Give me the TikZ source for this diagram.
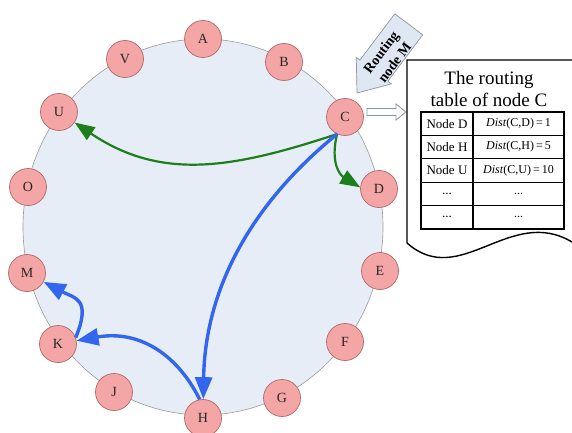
\documentclass[tikz,border=0pt]{standalone}
\usepackage{fontspec}
\setmainfont{Liberation Serif}
\usetikzlibrary{arrows.meta}

\definecolor{ringfill}{HTML}{E7EDF7}
\definecolor{ringline}{HTML}{9A9A9A}
\definecolor{peerfill}{HTML}{F4A5A5}
\definecolor{peerline}{HTML}{B06868}
\definecolor{hopgreen}{HTML}{1C7F1C}
\definecolor{hopblue}{HTML}{3366EE}
\definecolor{calloutfill}{HTML}{DFE7F3}
\definecolor{calloutline}{HTML}{8C96A4}

\begin{document}
\begin{tikzpicture}[x=1pt,y=1pt,
  peer/.style={circle, fill=peerfill, draw=peerline, line width=0.7pt,
    minimum size=37pt, inner sep=0pt, text=black!85,
    font=\fontsize{14}{14}\selectfont},
  greenhop/.style={draw=hopgreen, line width=2.2pt,
    -{Triangle[length=20pt,width=15pt]}},
  bluehop/.style={draw=hopblue, line width=3.4pt,
    -{Triangle[length=22pt,width=17pt]}},
  cellkey/.style={draw, line width=1.3pt, minimum width=52pt,
    minimum height=23.4pt, inner sep=0pt, font=\fontsize{13}{13}\selectfont},
  cellval/.style={draw, line width=1.3pt, minimum width=91pt,
    minimum height=23.4pt, inner sep=0pt, font=\fontsize{12}{13}\selectfont}
]
\useasboundingbox (0,0) rectangle (572,-433);

% the ring of peers
\draw[fill=ringfill, draw=ringline, line width=0.6pt]
  (203,-227) ellipse [x radius=180, y radius=188];

\node[peer] (A) at (203,-39)  {A};
\node[peer] (B) at (284,-62)  {B};
\node[peer] (C) at (345,-117) {C};
\node[peer] (D) at (379,-189) {D};
\node[peer] (E) at (380,-271) {E};
\node[peer] (F) at (345,-342) {F};
\node[peer] (G) at (282,-398) {G};
\node[peer] (H) at (203,-418) {H};
\node[peer] (J) at (114,-392) {J};
\node[peer] (K) at (58,-344)  {K};
\node[peer] (M) at (27,-273)  {M};
\node[peer] (O) at (28,-187)  {O};
\node[peer] (U) at (59,-112)  {U};
\node[peer] (V) at (125,-59)  {V};

% entries of C's routing table
\draw[greenhop] (C.-115) .. controls (234,-168) and (162,-181.5) .. (U);
\draw[greenhop] (C.-115) .. controls (330,-163) and (340,-175) .. (D.175);
\draw[bluehop]  (C.-115) .. controls (250,-205) and (205,-290) .. (H);

% lookup path towards M
\draw[bluehop] (H.100) .. controls (176,-352) and (137,-330) .. (K);
\draw[bluehop] (K.20) .. controls (92,-298) and (74,-298) .. (M);

% incoming request callout
\begin{scope}[shift={(357,-93)}, rotate=233]
  \draw[fill=calloutfill, draw=calloutline, line width=0.7pt]
    (0,0) -- (-28,22) -- (-28,17.5) -- (-86,17.5) -- (-86,-17.5)
    -- (-28,-17.5) -- (-28,-22) -- cycle;
  \node[rotate=53, align=center, inner sep=0pt,
        font=\bfseries\fontsize{14}{17}\selectfont] (req) at (-47,3)
    {Routing\\node M};
\end{scope}

% pointer from C to its table
\draw[draw=calloutline, fill=white, line width=0.8pt]
  (367,-108.5) -- (396,-108.5) -- (396,-104) -- (406,-112)
  -- (396,-120) -- (396,-115.5) -- (367,-115.5) -- cycle;

% table sheet
\draw[line width=1.4pt, fill=white]
  (572,-60) -- (407,-60) -- (407,-243)
  .. controls (460,-290) and (510,-205) .. (572,-242);

\node[align=center, inner sep=0pt, font=\fontsize{19}{22}\selectfont]
  (title) at (489,-89) {The routing\\table of node C};

\node[cellkey] (k1) at (447,-123.7) {Node D};
\node[cellval] (v1) at (518.5,-123.7) {\textit{Dist}(C,D)\,=\,1};
\node[cellkey] (k2) at (447,-147.1) {Node H};
\node[cellval] (v2) at (518.5,-147.1) {\textit{Dist}(C,H)\,=\,5};
\node[cellkey] (k3) at (447,-170.5) {Node U};
\node[cellval] (v3) at (518.5,-170.5) {\textit{Dist}(C,U)\,=\,10};
\node[cellkey] (k4) at (447,-193.9) {...};
\node[cellval] (v4) at (518.5,-193.9) {...};
\node[cellkey] (k5) at (447,-217.3) {...};
\node[cellval] (v5) at (518.5,-217.3) {...};
\end{tikzpicture}
\end{document}
